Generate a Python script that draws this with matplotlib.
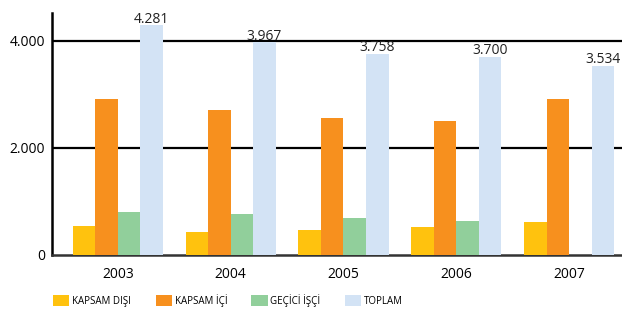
import numpy as np
import matplotlib
matplotlib.use("Agg")
import matplotlib.pyplot as plt

plt.rcParams['font.family'] = ['Open Sans', 'DejaVu Sans']

years = ['2003', '2004', '2005', '2006', '2007']
kapsam_disi = [545, 435, 470, 525, 605]
kapsam_ici = [2900, 2710, 2560, 2490, 2900]
gecici_isci = [795, 770, 695, 640, 0]
toplam = [4281, 3967, 3758, 3700, 3534]
toplam_labels = ['4.281', '3.967', '3.758', '3.700', '3.534']

series = [kapsam_disi, kapsam_ici, gecici_isci, toplam]
names = ['KAPSAM DIŞI', 'KAPSAM İÇİ', 'GEÇİCİ İŞÇİ', 'TOPLAM']
colors = ['#FFC20E', '#F7901E', '#91CF9B', '#D3E3F5']

fig = plt.figure(figsize=(6.22, 3.09), dpi=100)
ax = fig.add_axes([0.0836, 0.175, 0.9164, 0.784])

x = np.arange(len(years))
w = 0.2
for i, (vals, name, c) in enumerate(zip(series, names, colors)):
    ax.bar(x + (i - 1.5) * w, vals, width=w, color=c, label=name, zorder=3)

for xi, v, lab in zip(x, toplam, toplam_labels):
    ax.text(xi + 1.5 * w, v - 30, lab, ha='center', va='bottom', fontsize=10, color='#222222', zorder=4)

ax.set_xlim(-0.584, 4.469)
ax.set_ylim(0, 4520)
ax.set_yticks([0, 2000, 4000])
ax.set_yticklabels(['0', '2.000', '4.000'], fontsize=10)
ax.set_xticks(x)
ax.set_xticklabels(years, fontsize=10)
ax.tick_params(axis='both', length=0)
ax.tick_params(axis='x', pad=9)
ax.tick_params(axis='y', pad=5)

for yv in [2000, 4000]:
    ax.axhline(yv, color='black', lw=1.6, zorder=1)

for s in ['top', 'right']:
    ax.spines[s].set_visible(False)
ax.spines['left'].set_linewidth(1.8)
ax.spines['left'].set_color('black')
ax.spines['bottom'].set_linewidth(1.8)
ax.spines['bottom'].set_color('#333333')

fig.legend(loc='lower left', bbox_to_anchor=(0.075, -0.015), ncol=4, frameon=False,
           fontsize=7, handlelength=1.65, handleheight=1.45, handletextpad=0.3,
           columnspacing=2.5, borderpad=0.2)

fig.savefig('out.png', dpi=100)
